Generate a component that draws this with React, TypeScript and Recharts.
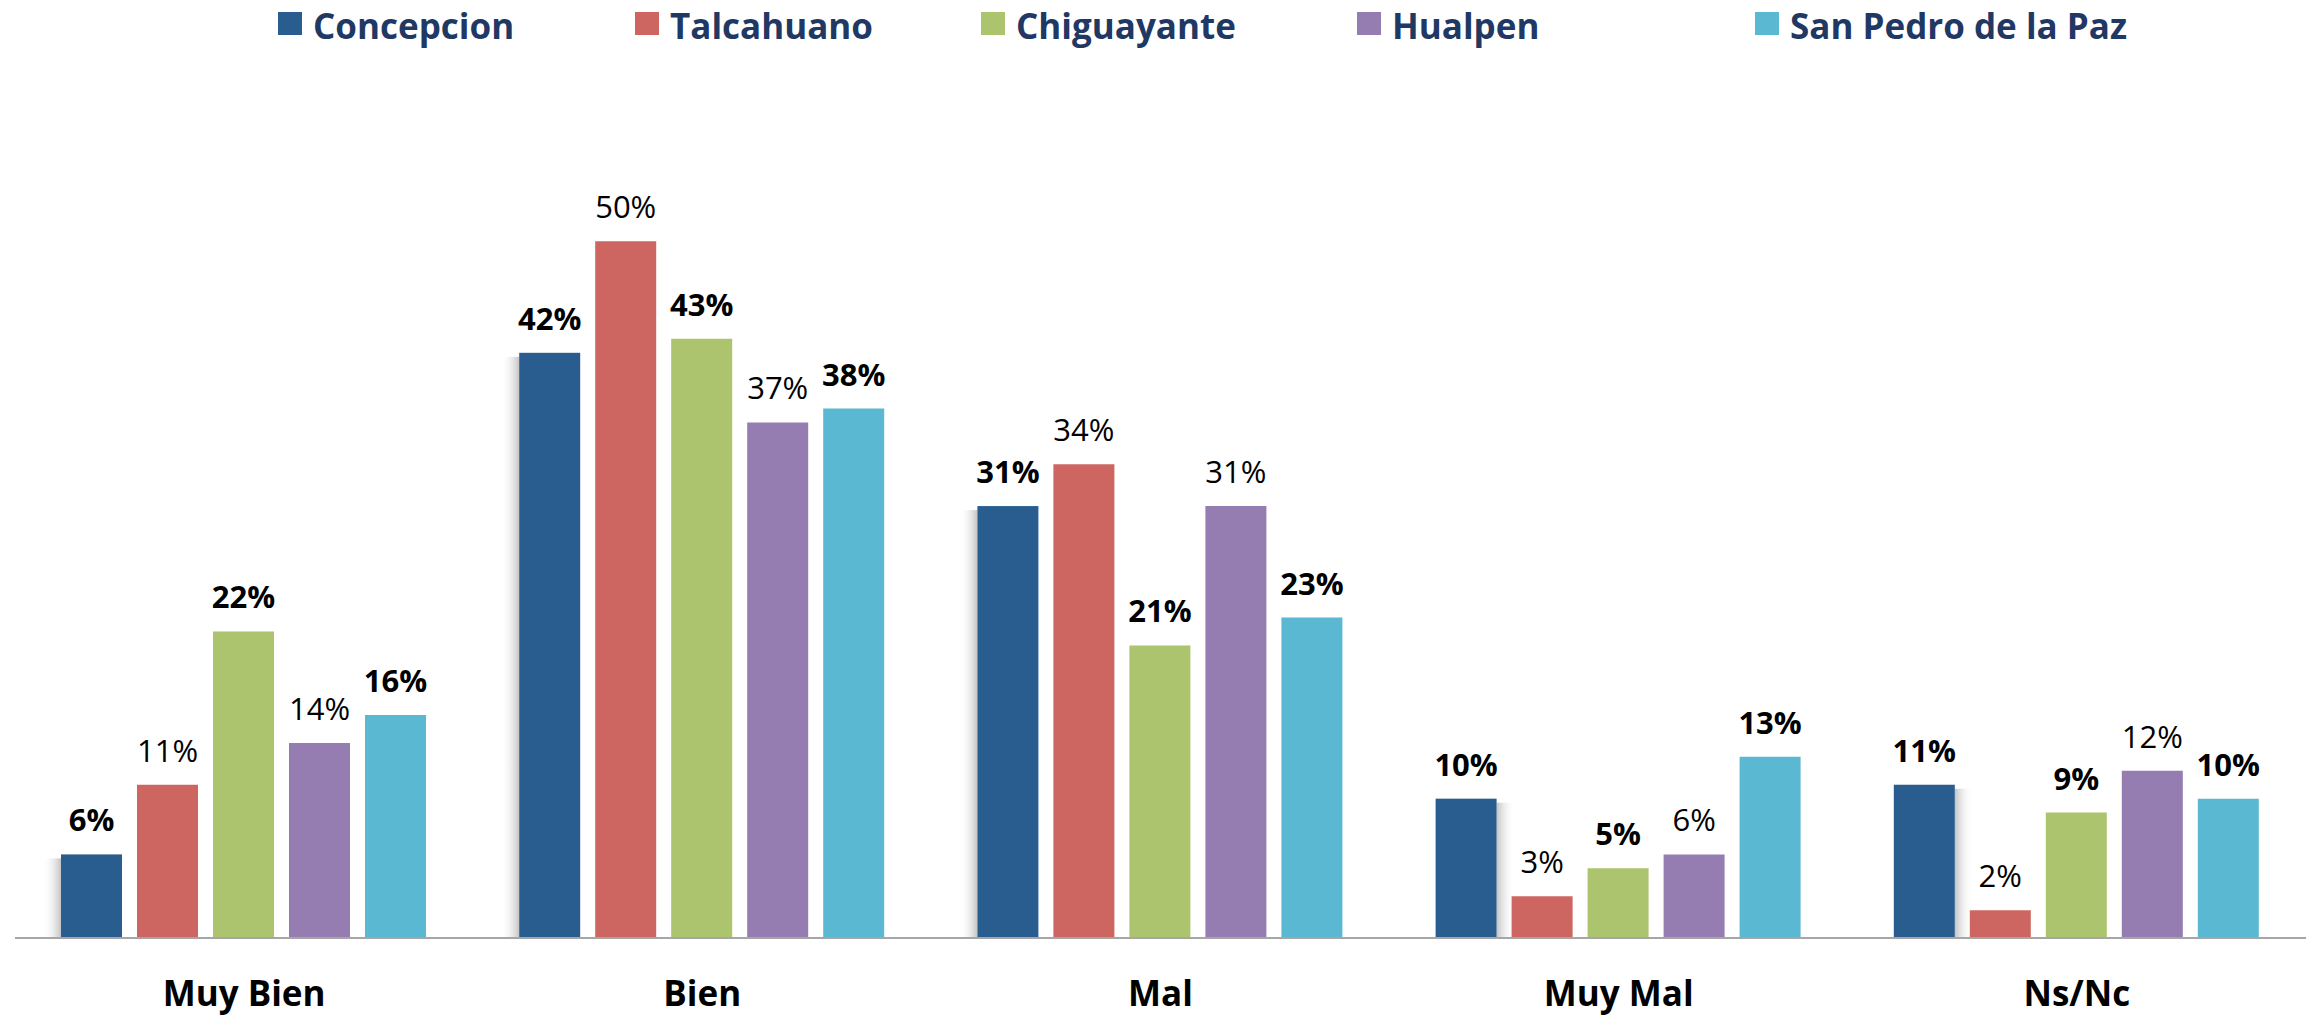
import React from 'react';
import { BarChart, Bar, XAxis, YAxis, LabelList } from 'recharts';

const categories = ['Muy Bien', 'Bien', 'Mal', 'Muy Mal', 'Ns/Nc'];
const concepcion = [6, 42, 31, 10, 11];
const talcahuano = [11, 50, 34, 3, 2];
const chiguayante = [22, 43, 21, 5, 9];
const hualpen = [14, 37, 31, 6, 12];
const sanPedro = [16, 38, 23, 13, 10];

const seriesNames = ['Concepcion', 'Talcahuano', 'Chiguayante', 'Hualpen', 'San Pedro de la Paz'];
const seriesValues = [concepcion, talcahuano, chiguayante, hualpen, sanPedro];
const seriesColors = ['#2A5D8F', '#CD6660', '#ABC46D', '#957CB1', '#5BB8D2'];
const seriesBold = [true, false, true, false, true];

const data = categories.map((cat, i) => {
  const row: Record<string, string | number> = { cat };
  seriesNames.forEach((n, s) => {
    row[n] = seriesValues[s][i];
  });
  return row;
});

const FONT = '"Open Sans", sans-serif';
const W = 2306;
const H = 1017;
const legendX = [278, 635, 981, 1357, 1755];

const ShadowBar = (props: any) => {
  const { x, y, width, height, fill, index } = props;
  if (!height || height <= 0) return null;
  const left = index < 3;
  const sw = 18;
  const gid = left ? 'shadowL' : 'shadowR';
  return (
    <g>
      <rect x={left ? x - sw : x + width} y={y + 4} width={sw} height={height - 4} fill={`url(#${gid})`} />
      <rect x={x} y={y} width={width} height={height} fill={fill} />
    </g>
  );
};

const CatTick = (props: any) => {
  const { x, y, payload } = props;
  return (
    <text x={x} y={y + 68} textAnchor="middle" fontFamily={FONT} fontWeight={700} fontSize={35} fill="#000">
      {payload.value}
    </text>
  );
};

export default function App() {
  return (
    <div style={{ position: 'relative', width: W, height: H, background: '#fff' }}>
      <style>{`body{margin:0;}`}</style>
      <BarChart
        width={W}
        height={H}
        data={data}
        margin={{ top: 102, right: 0, left: 15, bottom: 0 }}
        barCategoryGap={46}
        barGap={15}
      >
        <defs>
          <linearGradient id="shadowL" x1="1" y1="0" x2="0" y2="0">
            <stop offset="0%" stopColor="#BDBDBD" stopOpacity={0.9} />
            <stop offset="100%" stopColor="#FFFFFF" stopOpacity={0} />
          </linearGradient>
          <linearGradient id="shadowR" x1="0" y1="0" x2="1" y2="0">
            <stop offset="0%" stopColor="#BDBDBD" stopOpacity={0.9} />
            <stop offset="100%" stopColor="#FFFFFF" stopOpacity={0} />
          </linearGradient>
        </defs>
        <XAxis
          dataKey="cat"
          height={79}
          interval={0}
          tickLine={false}
          tickSize={0}
          tickMargin={0}
          axisLine={{ stroke: '#A6A6A6', strokeWidth: 2 }}
          tick={<CatTick />}
        />
        <YAxis hide domain={[0, 60]} />
        {seriesNames.map((n, s) => (
          <Bar
            key={n}
            dataKey={n}
            fill={seriesColors[s]}
            isAnimationActive={false}
            shape={s === 0 ? <ShadowBar /> : undefined}
          >
            <LabelList
              dataKey={n}
              position="top"
              offset={23}
              formatter={(v: any) => `${v}%`}
              fill="#000"
              fontFamily={FONT}
              fontSize={31}
              fontWeight={seriesBold[s] ? 700 : 400}
            />
          </Bar>
        ))}
      </BarChart>
      <svg width={W} height={60} style={{ position: 'absolute', left: 0, top: 0 }}>
        {seriesNames.map((n, s) => (
          <g key={n}>
            <rect x={legendX[s]} y={12} width={24} height={23} fill={seriesColors[s]} />
            <text x={legendX[s] + 35} y={39} fontFamily={FONT} fontWeight={700} fontSize={35} fill="#1F3864">
              {n}
            </text>
          </g>
        ))}
      </svg>
    </div>
  );
}
